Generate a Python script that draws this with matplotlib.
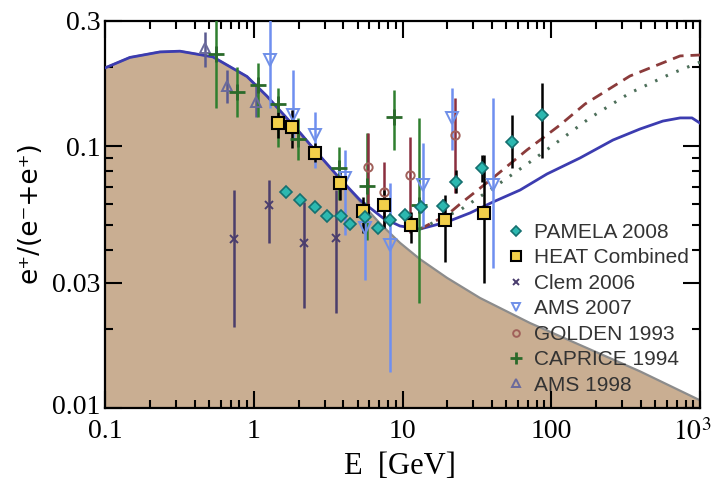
import matplotlib
matplotlib.use('Agg')
import matplotlib.pyplot as plt
import matplotlib.transforms as mtransforms
import numpy as np
from matplotlib.lines import Line2D
from matplotlib.ticker import FixedLocator, NullFormatter

plt.rcParams['mathtext.fontset'] = 'stix'

# ---------------- data ----------------
# secondary-production background (filled)
bg_E = [0.1, 0.147, 0.234, 0.319, 0.532, 0.901, 1.228, 1.50, 2.05, 2.66, 3.80, 5.18,
        7.06, 9.62, 13.1, 19.9, 33.2, 72, 156, 395, 1000]
bg_v = [0.1986, 0.2178, 0.2286, 0.2301, 0.2188, 0.1841, 0.1549, 0.1365, 0.1122, 0.0944,
        0.0750, 0.0614, 0.0506, 0.0427, 0.0370, 0.0314, 0.0263, 0.0211, 0.0174, 0.0138, 0.0107]

# model curves
solid_E = [0.1, 0.147, 0.234, 0.319, 0.532, 0.901, 1.228, 1.50, 2.05, 2.66, 3.80, 5.18,
           7.40, 9.62, 13.1, 19.9, 28.4, 40.5, 61.7, 93.6, 156, 260, 395, 563, 735, 883, 1000]
solid_v = [0.1986, 0.2178, 0.2286, 0.2301, 0.2188, 0.1841, 0.1549, 0.1365, 0.1122, 0.0944,
           0.0750, 0.0622, 0.0531, 0.0495, 0.0482, 0.0513, 0.0555, 0.0611, 0.0679, 0.0782,
           0.0900, 0.1054, 0.1161, 0.1245, 0.128, 0.128, 0.1223]
dashed_E = [13.1, 19.9, 24.4, 40.5, 68.7, 114.6, 168.6, 338, 735, 1000]
dashed_v = [0.0482, 0.0545, 0.0601, 0.0755, 0.0966, 0.1203, 0.1446, 0.185, 0.2207, 0.2225]
dotted_E = [13.1, 19.9, 24.4, 40.5, 72, 114.6, 182, 338, 628, 1000]
dotted_v = [0.0482, 0.0541, 0.0570, 0.0691, 0.0869, 0.1054, 0.128, 0.1594, 0.188, 0.209]

# measurements: energy, value, lower and upper error-bar ends
pamela_E = [1.65, 2.05, 2.58, 3.11, 3.86, 4.44, 5.60, 6.84, 8.24, 10.4, 13.3, 18.7, 22.9, 34.2, 54.4, 86.7]
pamela_v = [0.0667, 0.0622, 0.0585, 0.0541, 0.0541, 0.0504, 0.0536, 0.0486, 0.0523, 0.0546,
            0.0585, 0.0591, 0.0729, 0.0824, 0.1036, 0.131]
pamela_lo = [0.0650, 0.0607, 0.0571, 0.0527, 0.0527, 0.0490, 0.0520, 0.0470, 0.0505, 0.0525,
             0.0560, 0.0555, 0.0662, 0.0729, 0.0824, 0.0900]
pamela_hi = [0.0684, 0.0637, 0.0599, 0.0555, 0.0555, 0.0518, 0.0552, 0.0502, 0.0541, 0.0567,
             0.0610, 0.0630, 0.0810, 0.0924, 0.1310, 0.1740]

heat_E = [1.455, 1.81, 2.58, 3.80, 5.42, 7.51, 11.4, 19.3, 35.3]
heat_v = [0.122, 0.118, 0.094, 0.0722, 0.0565, 0.0595, 0.0499, 0.0522, 0.0555]
heat_lo = [0.1073, 0.0982, 0.0869, 0.0622, 0.0466, 0.0486, 0.0426, 0.0361, 0.0300]
heat_hi = [0.1349, 0.1373, 0.1027, 0.0796, 0.0638, 0.0679, 0.0560, 0.0650, 0.0924]

clem_E = [0.736, 1.27, 2.18, 3.57]
clem_v = [0.0442, 0.0595, 0.0426, 0.0446]
clem_lo = [0.0204, 0.0426, 0.0241, 0.0231]
clem_hi = [0.0679, 0.0742, 0.0611, 0.0679]

ams07_E = [1.285, 1.84, 2.58, 4.10, 5.60, 8.24, 13.7, 21.5, 40.5]
ams07_v = [0.213, 0.131, 0.110, 0.0755, 0.0486, 0.0419, 0.0710, 0.128, 0.0710]
ams07_lo = [0.1396, 0.105, 0.0824, 0.0457, 0.0308, 0.0137, 0.0491, 0.0966, 0.0342]
ams07_hi = [0.316, 0.195, 0.135, 0.0966, 0.0555, 0.0722, 0.1026, 0.1665, 0.1525]

golden_E = [5.86, 7.51, 11.2, 22.5]
golden_v = [0.0832, 0.0667, 0.0775, 0.110]
golden_lo = [0.0570, 0.0491, 0.0466, 0.0662]
golden_hi = [0.112, 0.0869, 0.108, 0.1525]

caprice_E = [0.557, 0.772, 1.068, 1.455, 1.98, 3.74, 5.77, 8.77, 12.9]
caprice_v = [0.2244, 0.1607, 0.171, 0.1446, 0.1063, 0.0824, 0.0704, 0.129, 0.0595]
caprice_lo = [0.1396, 0.129, 0.129, 0.0991, 0.0885, 0.0622, 0.0438, 0.0966, 0.0252]
caprice_hi = [0.303, 0.2004, 0.2074, 0.1665, 0.128, 0.0991, 0.112, 0.1637, 0.128]

ams98_E = [0.470, 0.661, 1.035]
ams98_v = [0.2366, 0.1694, 0.147]
ams98_lo = [0.2004, 0.1459, 0.129]
ams98_hi = [0.272, 0.195, 0.174]

x_ticks = [0.1, 1, 10, 100, 1000]
x_ticklabels = ['0.1', '1', '10', '100', r'$10^3$']
y_ticks = [0.01, 0.03, 0.1, 0.3]
y_ticklabels = ['0.01', '0.03', '0.1', '0.3']

# ---------------- figure ----------------
fig = plt.figure(figsize=(7.15, 4.88), dpi=100)
ax = fig.add_axes([105 / 715, 1 - 408 / 488, 595 / 715, 387 / 488])
ax.set_xscale('log')
ax.set_yscale('log')

ax.fill_between(bg_E, 0.001, bg_v, color='#c9ae92', lw=0, zorder=1)
ax.plot(bg_E, bg_v, color='#8c8c8c', lw=1.6, zorder=2)
ax.plot(solid_E, solid_v, color='#3c3cb0', lw=2.0, zorder=3)
ax.plot(dashed_E, dashed_v, color='#8b3b3b', lw=2.0, ls=(0, (4, 2.5)), zorder=3)
ax.plot(dotted_E, dotted_v, color='#4d6f5a', lw=2.2, ls=(0, (0.8, 3)), zorder=3)


def series(E, v, lo, hi, ecol, **mk):
    E = np.array(E); v = np.array(v); lo = np.array(lo); hi = np.array(hi)
    ax.errorbar(E, v, yerr=[v - lo, hi - v], fmt='none', ecolor=ecol, elinewidth=1.8,
                capsize=0, zorder=4)
    ax.plot(E, v, ls='none', zorder=5, **mk)


s_ams98 = dict(marker='^', ms=7, mfc='none', mec='#6a6a9c', mew=1.4)
s_caprice = dict(marker='+', ms=11, mec='#2a6a2a', mew=2.0)
s_golden = dict(marker='o', ms=6, mfc='none', mec='#a0605a', mew=1.4)
s_ams07 = dict(marker='v', ms=8, mfc='none', mec='#6f8fe8', mew=1.4)
s_clem = dict(marker='x', ms=6, mec='#4a3d6e', mew=1.4)
s_heat = dict(marker='s', ms=8.5, mfc='#f2cf4a', mec='black', mew=1.5)
s_pamela = dict(marker='D', ms=6.5, mfc='#2cb8b0', mec='#157070', mew=1.2)

series(ams98_E, ams98_v, ams98_lo, ams98_hi, '#5a5a90', **s_ams98)
series(caprice_E, caprice_v, caprice_lo, caprice_hi, '#2f7f2f', **s_caprice)
series(golden_E, golden_v, golden_lo, golden_hi, '#8b2f3f', **s_golden)
series(ams07_E, ams07_v, ams07_lo, ams07_hi, '#6f8ff0', **s_ams07)
series(clem_E, clem_v, clem_lo, clem_hi, '#4b3e6b', **s_clem)
series(heat_E, heat_v, heat_lo, heat_hi, 'black', **s_heat)
series(pamela_E, pamela_v, pamela_lo, pamela_hi, 'black', **s_pamela)

ax.set_xlim(0.1, 1000)
ax.set_ylim(0.01, 0.3)

ax.xaxis.set_major_locator(FixedLocator(x_ticks))
ax.set_xticklabels(x_ticklabels)
ax.xaxis.set_minor_locator(FixedLocator(
    [m * 10.0 ** k for k in range(-1, 3) for m in range(2, 10)]))
ax.xaxis.set_minor_formatter(NullFormatter())
ax.yaxis.set_major_locator(FixedLocator(y_ticks))
ax.set_yticklabels(y_ticklabels)
ax.yaxis.set_minor_locator(FixedLocator(
    [0.02, 0.04, 0.05, 0.06, 0.07, 0.08, 0.09, 0.2]))
ax.yaxis.set_minor_formatter(NullFormatter())

ax.tick_params(which='both', direction='in', top=True, right=True, width=1.5)
ax.tick_params(which='major', length=12)
ax.tick_params(which='minor', length=6)
ax.tick_params(axis='x', pad=8)
ax.tick_params(axis='y', pad=3)
for lab in ax.get_xticklabels() + ax.get_yticklabels():
    lab.set_fontfamily('Liberation Serif')
    lab.set_fontsize(20)

# keep the last x label inside the figure, and nudge the lowest y label up
xlabs = ax.get_xticklabels()
xlabs[-1].set_transform(xlabs[-1].get_transform() +
                        mtransforms.ScaledTranslation(-8 / 100, 0, fig.dpi_scale_trans))
ylabs = ax.get_yticklabels()
ylabs[0].set_transform(ylabs[0].get_transform() +
                       mtransforms.ScaledTranslation(0, 3 / 100, fig.dpi_scale_trans))

for sp in ax.spines.values():
    sp.set_linewidth(1.6)

fig.text(400 / 715, 1 - 466 / 488, 'E  [GeV]', family='Liberation Serif', fontsize=22,
         ha='center', va='center')
fig.text(30 / 715, 1 - 212 / 488, 'e\u207a/(e\u207b+e\u207a)', family='DejaVu Sans',
         fontsize=19, rotation=90, ha='center', va='center')

labels = ['PAMELA 2008', 'HEAT Combined', 'Clem 2006', 'AMS 2007', 'GOLDEN 1993',
          'CAPRICE 1994', 'AMS 1998']
styles = [s_pamela, s_heat, s_clem, s_ams07, s_golden, s_caprice, s_ams98]
handles = []
for st in styles:
    st2 = dict(st)
    st2['ms'] = st2['ms'] * 0.8
    handles.append(Line2D([], [], ls='none', **st2))
leg = ax.legend(handles, labels, loc='upper left',
                bbox_to_anchor=((508 - 105) / 595, (408 - 223) / 387),
                frameon=False, borderpad=0, borderaxespad=0, handlelength=0.8,
                handletextpad=0.45, labelspacing=0.31,
                prop={'family': 'Liberation Sans', 'size': 15})
for t in leg.get_texts():
    t.set_color('#333333')

fig.savefig('out.png', dpi=100)
